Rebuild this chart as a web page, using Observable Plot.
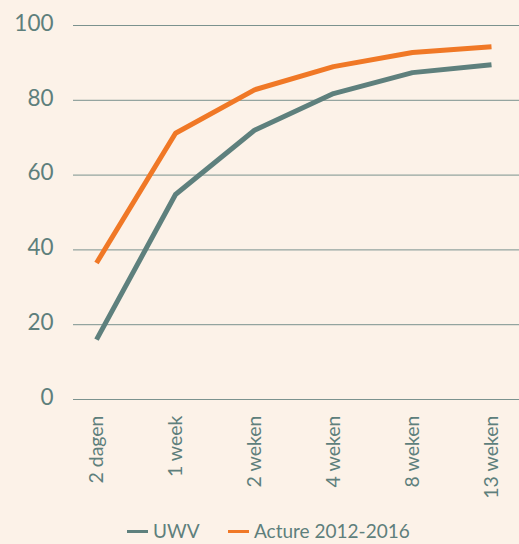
<!DOCTYPE html>
<html>
<head>
<meta charset="utf-8">
<script src="https://cdn.jsdelivr.net/npm/d3@7"></script>
<script src="https://cdn.jsdelivr.net/npm/@observablehq/plot@0.6"></script>
<style>
  html, body { margin: 0; padding: 0; background: #fcf2e8; }
  body { width: 519px; height: 544px; overflow: hidden; font-family: Lato, "Open Sans", sans-serif; }
  #chart svg { display: block; }
  .legend { position: relative; height: 32px; color: #5e7f7c; font-size: 19px; line-height: 22px; }
  .legend .item { position: absolute; top: 8px; display: flex; align-items: center; }
  .legend .sw { display: inline-block; width: 21px; height: 3px; margin-right: 5px; }
</style>
</head>
<body>
<div id="chart"></div>
<div class="legend" id="legend"></div>
<script>
const categories = ["2 dagen", "1 week", "2 weken", "4 weken", "8 weken", "13 weken"];
const seriesNames = ["UWV", "Acture 2012-2016"];
const uwv = [16, 54.8, 72, 81.8, 87.4, 89.5];
const acture = [36.5, 71.2, 82.8, 89, 92.8, 94.3];
const yTicks = [0, 20, 40, 60, 80, 100];
const colors = ["#5e807d", "#f07826"];
const textColor = "#5e7f7c";

const data = [];
categories.forEach((c, i) => {
  data.push({ cat: c, series: seriesNames[0], value: uwv[i] });
  data.push({ cat: c, series: seriesNames[1], value: acture[i] });
});

const chart = Plot.plot({
  width: 519,
  height: 512,
  marginLeft: 73,
  marginRight: 0,
  marginTop: 25,
  marginBottom: 113,
  style: { background: "transparent", color: textColor, fontFamily: "Lato, 'Open Sans', sans-serif" },
  x: { type: "point", domain: categories, padding: 0.3015, align: 0.458, label: null },
  y: { domain: [0, 100], label: null },
  color: { domain: seriesNames, range: colors },
  marks: [
    Plot.ruleY(yTicks, { stroke: "#7b928e", strokeWidth: 1 }),
    Plot.axisY(yTicks, { tickSize: 0, tickPadding: 20, fontSize: 22.5, dy: -2, fill: textColor, label: null }),
    Plot.axisX({ tickSize: 0, tickRotate: -90, tickPadding: 16, fontSize: 19.5, fill: textColor, label: null }),
    Plot.line(data, { x: "cat", y: "value", z: "series", stroke: "series", strokeWidth: 5, strokeLinejoin: "round", strokeLinecap: "butt" })
  ]
});
document.getElementById("chart").appendChild(chart);

const legend = document.getElementById("legend");
const lefts = [127, 228];
seriesNames.forEach((s, i) => {
  const item = document.createElement("div");
  item.className = "item";
  item.style.left = lefts[i] + "px";
  const sw = document.createElement("span");
  sw.className = "sw";
  sw.style.background = colors[i];
  const t = document.createElement("span");
  t.textContent = s;
  item.appendChild(sw);
  item.appendChild(t);
  legend.appendChild(item);
});
</script>
</body>
</html>
